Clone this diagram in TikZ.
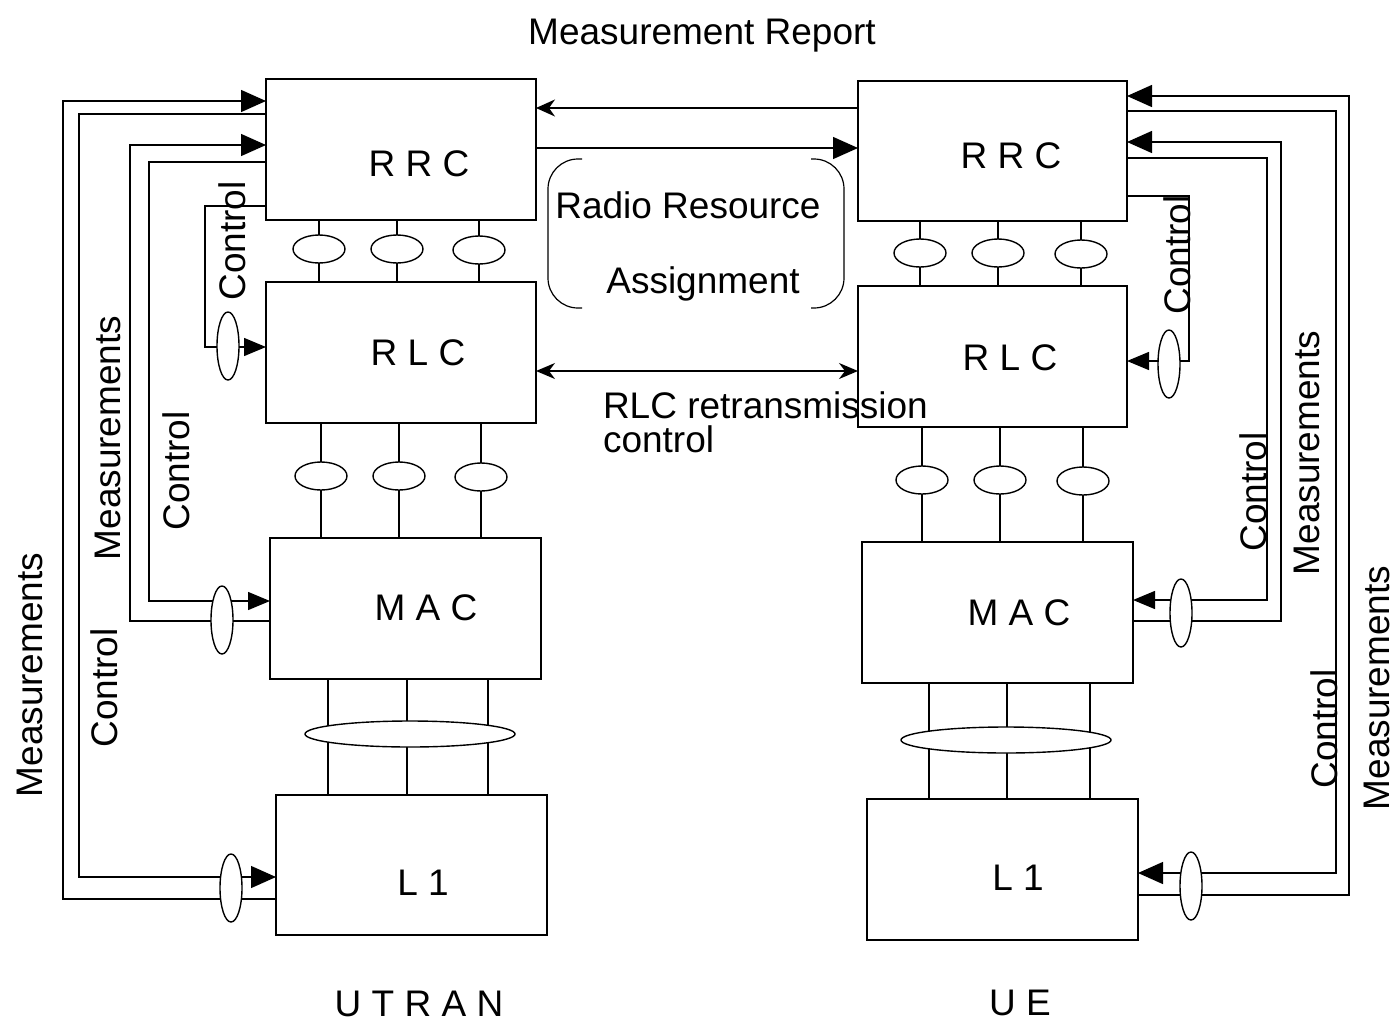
\documentclass[tikz,border=0pt]{standalone}
\usepackage{fontspec}
\setmainfont{Liberation Sans}
\usetikzlibrary{arrows.meta,shapes.geometric}
\begin{document}
\begin{tikzpicture}[x=1pt,y=-1pt,
  every node/.style={font=\fontsize{37}{34}\selectfont, inner sep=0pt, outer sep=0pt},
  box/.style={draw, rectangle, line width=1.6pt},
  ln/.style={line width=1.4pt},
  bigarr/.style={ln,-{Triangle[length=25pt,width=22pt]}},
  midarr/.style={ln,-{Triangle[length=22pt,width=18pt]}},
  stl/.style={ln,-{Stealth[length=19pt,width=17pt,inset=6pt]}},
  dstl/.style={ln,{Stealth[length=19pt,width=16pt,inset=6pt]}-{Stealth[length=19pt,width=16pt,inset=6pt]}},
  sell/.style={draw, ellipse, fill=white, line width=1.4pt, minimum width=52pt, minimum height=28pt},
  vell/.style={draw, ellipse, fill=white, line width=1.4pt, minimum width=22pt, minimum height=68pt},
  well/.style={draw, ellipse, fill=white, line width=1.4pt, minimum width=210pt, minimum height=26pt},
  rot/.style={rotate=90, anchor=center}
]
\useasboundingbox (0,0) rectangle (1395,1023);

% boxes
\node[box, minimum width=270pt, minimum height=141pt] (rrcL) at (401,149.5) {};
\node[box, minimum width=270pt, minimum height=141pt] (rlcL) at (401,352.5) {};
\node[box, minimum width=271pt, minimum height=141pt] (macL) at (405.5,608.5) {};
\node[box, minimum width=271pt, minimum height=140pt] (l1L) at (411.5,865) {};
\node[box, minimum width=269pt, minimum height=140pt] (rrcR) at (992.5,151) {};
\node[box, minimum width=269pt, minimum height=141pt] (rlcR) at (992.5,356.5) {};
\node[box, minimum width=271pt, minimum height=141pt] (macR) at (997.5,612.5) {};
\node[box, minimum width=271pt, minimum height=141pt] (l1R) at (1002.5,869.5) {};

% box labels
\node[anchor=base] (tRrcL) at (419,176) {R R C};
\node[anchor=base] (tRlcL) at (418,365) {R L C};
\node[anchor=base] (tMacL) at (426,620) {M A C};
\node[anchor=base] (tL1L) at (423,895) {L 1};
\node[anchor=base] (tRrcR) at (1011,168) {R R C};
\node[anchor=base] (tRlcR) at (1010,370) {R L C};
\node[anchor=base] (tMacR) at (1019,625) {M A C};
\node[anchor=base] (tL1R) at (1018,890) {L 1};
\node[anchor=base] (utran) at (419,1016) {U T R A N};
\node[anchor=base] (ue) at (1020,1015) {U E};
\node[anchor=base] (mrep) at (702,44) {Measurement Report};
\node[anchor=base] (rra1) at (688,218) {Radio Resource};
\node[anchor=base] (rra2) at (703,293) {Assignment};
\node[anchor=base west] (rlcr1) at (603,418) {RLC retransmission};
\node[anchor=base west] (rlcr2) at (603,452) {control};

% rotated labels
\node[rot] (mL1) at (30,675) {Measurements};
\node[rot] (cL1) at (104,688) {Control};
\node[rot] (mL2) at (108,438) {Measurements};
\node[rot] (cL2) at (176,471) {Control};
\node[rot] (cL3) at (232,241) {Control};
\node[rot] (cR3) at (1177,255) {Control};
\node[rot] (mR2) at (1307,453) {Measurements};
\node[rot] (cR2) at (1253,492) {Control};
\node[rot] (cR1) at (1324,729) {Control};
\node[rot] (mR1) at (1377,688) {Measurements};

% vertical links between layers (left)
\foreach \x in {319,397,479} \draw[ln] (rrcL.south -| \x,0) -- (rlcL.north -| \x,0);
\foreach \x in {321,399,481} \draw[ln] (rlcL.south -| \x,0) -- (macL.north -| \x,0);
\foreach \x in {328,407,488} \draw[ln] (macL.south -| \x,0) -- (l1L.north -| \x,0);
% right
\foreach \x in {920,998,1081} \draw[ln] (rrcR.south -| \x,0) -- (rlcR.north -| \x,0);
\foreach \x in {922,1000,1083} \draw[ln] (rlcR.south -| \x,0) -- (macR.north -| \x,0);
\foreach \x in {929,1007,1090} \draw[ln] (macR.south -| \x,0) -- (l1R.north -| \x,0);

% channel ellipses
\node[sell] (eL1) at (319,249) {};
\node[sell] (eL2) at (397,249) {};
\node[sell] (eL3) at (479,250) {};
\node[sell] (eL4) at (321,476) {};
\node[sell] (eL5) at (399,476) {};
\node[sell] (eL6) at (481,477) {};
\node[well] (eL7) at (410,734) {};
\node[sell] (eR1) at (920,253) {};
\node[sell] (eR2) at (998,253) {};
\node[sell] (eR3) at (1081,254) {};
\node[sell] (eR4) at (922,480) {};
\node[sell] (eR5) at (1000,480) {};
\node[sell] (eR6) at (1083,481) {};
\node[well] (eR7) at (1006,740) {};

% middle arrows
\draw[stl] (rrcR.west |- 0,108) -- (rrcL.east |- 0,108);
\draw[bigarr] (rrcL.east |- 0,148) -- (rrcR.west |- 0,148);
\draw[dstl] (rlcL.east |- 0,371) -- (rlcR.west |- 0,371);

% brackets
\draw[line width=1.2pt, rounded corners=30pt] (582,159) -- (548,159) -- (548,308) -- (582,308);
\draw[line width=1.2pt, rounded corners=30pt] (811,159) -- (844,159) -- (844,308) -- (811,308);

% left feedback loops
\draw[bigarr] (l1L.west |- 0,899) -- (63,899) -- (63,101) -- (rrcL.west |- 0,101);
\draw[bigarr] (rrcL.west |- 0,114) -- (79,114) -- (79,877) -- (l1L.west |- 0,877);
\draw[bigarr] (macL.west |- 0,621) -- (130,621) -- (130,145) -- (rrcL.west |- 0,145);
\draw[midarr] (rrcL.west |- 0,162) -- (149,162) -- (149,601) -- (macL.west |- 0,601);
\draw[midarr] (rrcL.west |- 0,206) -- (205,206) -- (205,347) -- (rlcL.west |- 0,347);
\node[vell] (vL1) at (228,346) {};
\node[vell] (vL2) at (222,620) {};
\node[vell] (vL3) at (231,888) {};

% right feedback loops
\draw[bigarr] (l1R.east |- 0,895) -- (1349,895) -- (1349,96) -- (rrcR.east |- 0,96);
\draw[bigarr] (rrcR.east |- 0,111) -- (1336,111) -- (1336,873) -- (l1R.east |- 0,873);
\draw[bigarr] (macR.east |- 0,621) -- (1281,621) -- (1281,142) -- (rrcR.east |- 0,142);
\draw[midarr] (rrcR.east |- 0,158) -- (1267,158) -- (1267,600) -- (macR.east |- 0,600);
\draw[midarr] (rrcR.east |- 0,196) -- (1189,196) -- (1189,361) -- (rlcR.east |- 0,361);
\node[vell] (vR1) at (1169,364) {};
\node[vell] (vR2) at (1181,613) {};
\node[vell] (vR3) at (1191,886) {};
\end{tikzpicture}
\end{document}
